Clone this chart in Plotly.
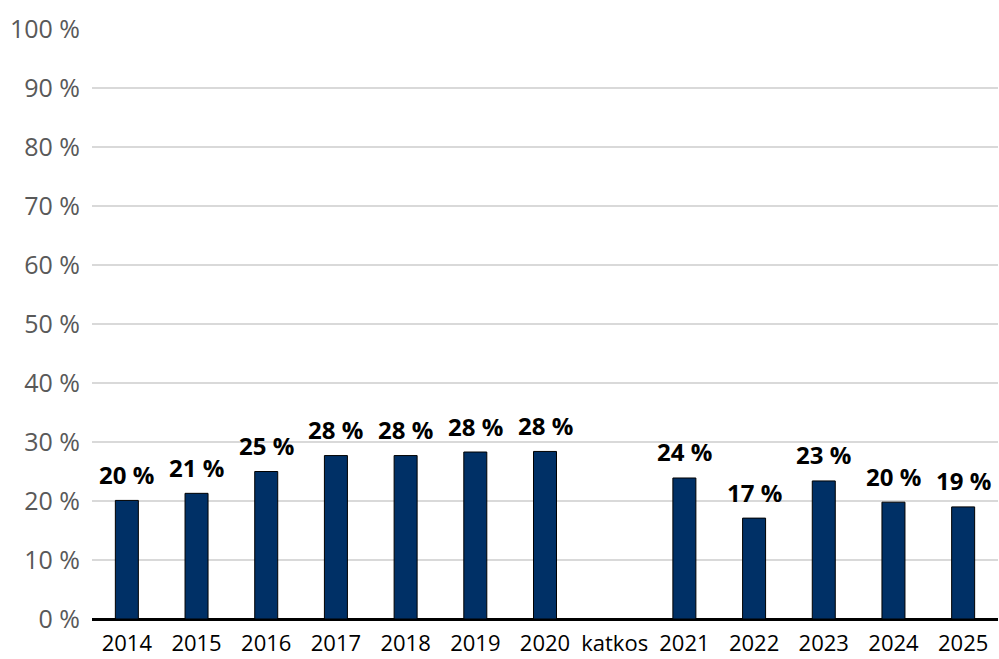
import plotly.graph_objects as go

categories = ["2014", "2015", "2016", "2017", "2018", "2019", "2020", "katkos",
              "2021", "2022", "2023", "2024", "2025"]
values = [20.1, 21.3, 25.0, 27.7, 27.7, 28.3, 28.4, None,
          23.9, 17.1, 23.4, 19.8, 19.0]
labels = ["20 %", "21 %", "25 %", "28 %", "28 %", "28 %", "28 %", "",
          "24 %", "17 %", "23 %", "20 %", "19 %"]
y_ticks = list(range(0, 101, 10))
y_tick_labels = [f"{t} %" for t in y_ticks]

FONT = "Open Sans"

fig = go.Figure()
fig.add_trace(go.Bar(
    x=categories, y=values,
    marker=dict(color="#003066", line=dict(color="#000000", width=1)),
    hoverinfo="skip",
))

# annotations on a category axis: x is the category's serial number
for i, (v, t) in enumerate(zip(values, labels)):
    if v is None:
        continue
    fig.add_annotation(x=i, y=v, xref="x", yref="y", text=f"<b>{t}</b>", showarrow=False,
                       yanchor="middle", yshift=26,
                       font=dict(family=FONT, size=24, color="#000000"))

fig.update_layout(
    width=999, height=659,
    margin=dict(l=92, r=1, t=29, b=40, autoexpand=False),
    paper_bgcolor="white", plot_bgcolor="white",
    bargap=0.67,
    showlegend=False,
    font=dict(family=FONT),
)
fig.update_xaxes(
    type="category",
    categoryorder="array", categoryarray=categories,
    range=[-0.5, len(categories) - 0.5],
    showline=False, showgrid=False,
    tickfont=dict(family=FONT, size=22, color="#000000"),
    ticks="outside", ticklen=5, tickcolor="rgba(0,0,0,0)",
)
fig.update_yaxes(
    range=[0, 100],
    tickvals=y_ticks, ticktext=y_tick_labels,
    showgrid=True, gridcolor="#d9d9d9", gridwidth=2,
    zeroline=True, zerolinecolor="#000000", zerolinewidth=3,
    showline=False,
    tickfont=dict(family=FONT, size=25, color="#595959"),
    ticks="outside", ticklen=6, tickcolor="rgba(0,0,0,0)",
)

fig.write_html("out.html", config={"displayModeBar": False},
               post_script="document.body.style.margin='0px';")
